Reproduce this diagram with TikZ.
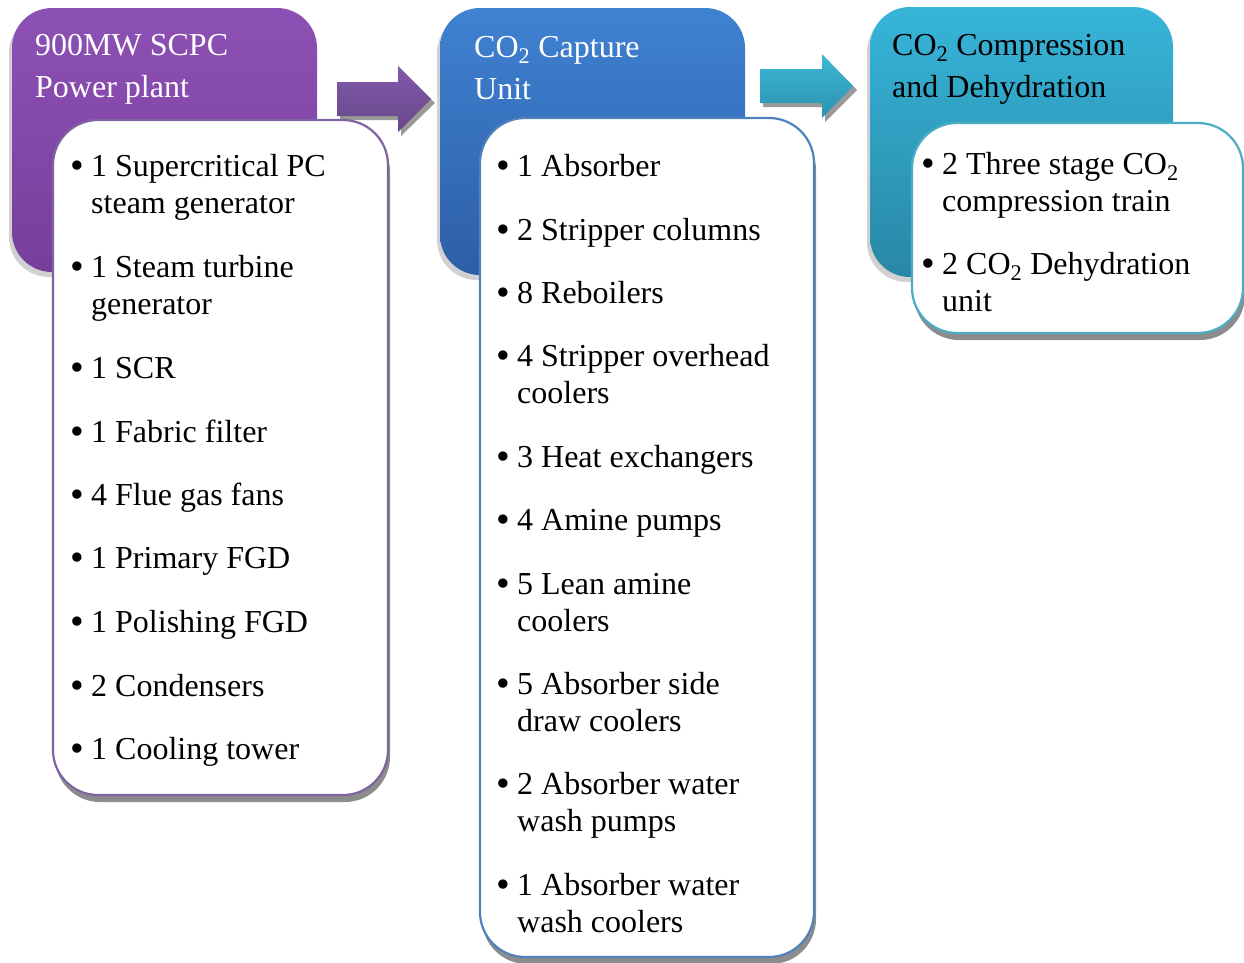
\documentclass[tikz,border=0pt]{standalone}
\usepackage{fontspec}
\setmainfont{Liberation Serif}
\usetikzlibrary{shadows}
\definecolor{purpT}{HTML}{8D51B5}
\definecolor{purpB}{HTML}{783E9C}
\definecolor{blueT}{HTML}{3F82D2}
\definecolor{blueB}{HTML}{2D5EA6}
\definecolor{tealT}{HTML}{37B5D9}
\definecolor{tealB}{HTML}{2887A6}
\definecolor{purpLine}{HTML}{8064A2}
\definecolor{blueLine}{HTML}{4F81BD}
\definecolor{tealLine}{HTML}{4BACC6}
\definecolor{arrPT}{HTML}{8259AB}
\definecolor{arrPB}{HTML}{674889}
\definecolor{arrTT}{HTML}{3EB8D6}
\definecolor{arrTB}{HTML}{2992AF}
\newcommand\bigbul{\raisebox{-2.5pt}{\scalebox{1.22}{\textbullet}}}
\newcommand\bul[1]{\begin{tabular}[t]{@{}l@{}l@{}}\makebox[21pt][l]{\bigbul}&#1\end{tabular}}
\newcommand\hdtext[1]{\begin{tabular}[t]{@{}l@{}}#1\end{tabular}}
\begin{document}
\begin{tikzpicture}[x=1pt,y=-1pt,
  hdr/.style={rectangle, rounded corners=40pt, inner sep=0pt,
    drop shadow={shadow xshift=-3pt, shadow yshift=-5pt, fill=black!45, opacity=0.4}},
  listbox/.style={rectangle, rounded corners=45pt, fill=white, inner sep=0pt, line width=2.2pt,
    drop shadow={shadow xshift=2pt, shadow yshift=-7pt, fill=black!45, opacity=1}},
  hdtxt/.style={anchor=base west, inner sep=0pt, font=\fontsize{32}{42.5}\selectfont},
  item/.style={anchor=base west, inner sep=0pt, font=\fontsize{32}{37}\selectfont},
  arrshadow/.style={fill=black!40, draw=none}
]
\useasboundingbox (0,0) rectangle (1244,962);

% header boxes
\node[hdr, top color=purpT, bottom color=purpB, minimum width=305pt, minimum height=264pt] (h1) at (164.5,140) {};
\node[hdr, top color=blueT, bottom color=blueB, minimum width=305pt, minimum height=267pt] (h2) at (592.5,141.5) {};
\node[hdr, top color=tealT, bottom color=tealB, minimum width=303pt, minimum height=270pt] (h3) at (1021.5,142) {};

\node[hdtxt, text=white] (t1) at (35,55) {\hdtext{900MW SCPC\\Power plant}};
\node[hdtxt, text=white] (t2) at (474,57) {\hdtext{CO\textsubscript{2} Capture\\Unit}};
\node[hdtxt, text=black] (t3) at (892,55) {\hdtext{CO\textsubscript{2} Compression\\and Dehydration}};

% block arrows
\fill[arrshadow] (340,86) -- (401,86) -- (401,70) -- (435,103) -- (401,136) -- (401,120) -- (340,120) -- cycle;
\shade[top color=arrPT, bottom color=arrPB] (337,82) -- (398,82) -- (398,66) -- (431,99) -- (398,132) -- (398,116) -- (337,116) -- cycle;
\fill[arrshadow] (763,73) -- (825,73) -- (825,58) -- (857,90) -- (825,122) -- (825,107) -- (763,107) -- cycle;
\shade[top color=arrTT, bottom color=arrTB] (760,69) -- (822,69) -- (822,54) -- (853,86) -- (822,118) -- (822,103) -- (760,103) -- cycle;

% list boxes
\node[listbox, draw=purpLine, minimum width=335pt, minimum height=675pt] (b1) at (220.5,457.5) {};
\node[listbox, draw=blueLine, minimum width=334pt, minimum height=839pt] (b2) at (647,537.5) {};
\node[listbox, draw=tealLine, minimum width=331pt, minimum height=210pt] (b3) at (1077.5,228) {};

% box 1 items
\node[item] (p1) at (70,176) {\bul{1 Supercritical PC\\&steam generator}};
\node[item] (p2) at (70,277) {\bul{1 Steam turbine\\&generator}};
\node[item] (p3) at (70,378) {\bul{1 SCR}};
\node[item] (p4) at (70,442) {\bul{1 Fabric filter}};
\node[item] (p5) at (70,505) {\bul{4 Flue gas fans}};
\node[item] (p6) at (70,568) {\bul{1 Primary FGD}};
\node[item] (p7) at (70,632) {\bul{1 Polishing FGD}};
\node[item] (p8) at (70,696) {\bul{2 Condensers}};
\node[item] (p9) at (70,759) {\bul{1 Cooling tower}};

% box 2 items
\node[item] (c1) at (496,176) {\bul{1 Absorber}};
\node[item] (c2) at (496,240) {\bul{2 Stripper columns}};
\node[item] (c3) at (496,303) {\bul{8 Reboilers}};
\node[item] (c4) at (496,366) {\bul{4 Stripper overhead\\&coolers}};
\node[item] (c5) at (496,467) {\bul{3 Heat exchangers}};
\node[item] (c6) at (496,530) {\bul{4 Amine pumps}};
\node[item] (c7) at (496,594) {\bul{5 Lean amine\\&coolers}};
\node[item] (c8) at (496,694) {\bul{5 Absorber side\\&draw coolers}};
\node[item] (c9) at (496,794) {\bul{2 Absorber water\\&wash pumps}};
\node[item] (c10) at (496,895) {\bul{1 Absorber water\\&wash coolers}};

% box 3 items
\node[item] (d1) at (921,174) {\bul{2 Three stage CO\textsubscript{2}\\&compression train}};
\node[item] (d2) at (921,274) {\bul{2 CO\textsubscript{2} Dehydration\\&unit}};
\end{tikzpicture}
\end{document}
